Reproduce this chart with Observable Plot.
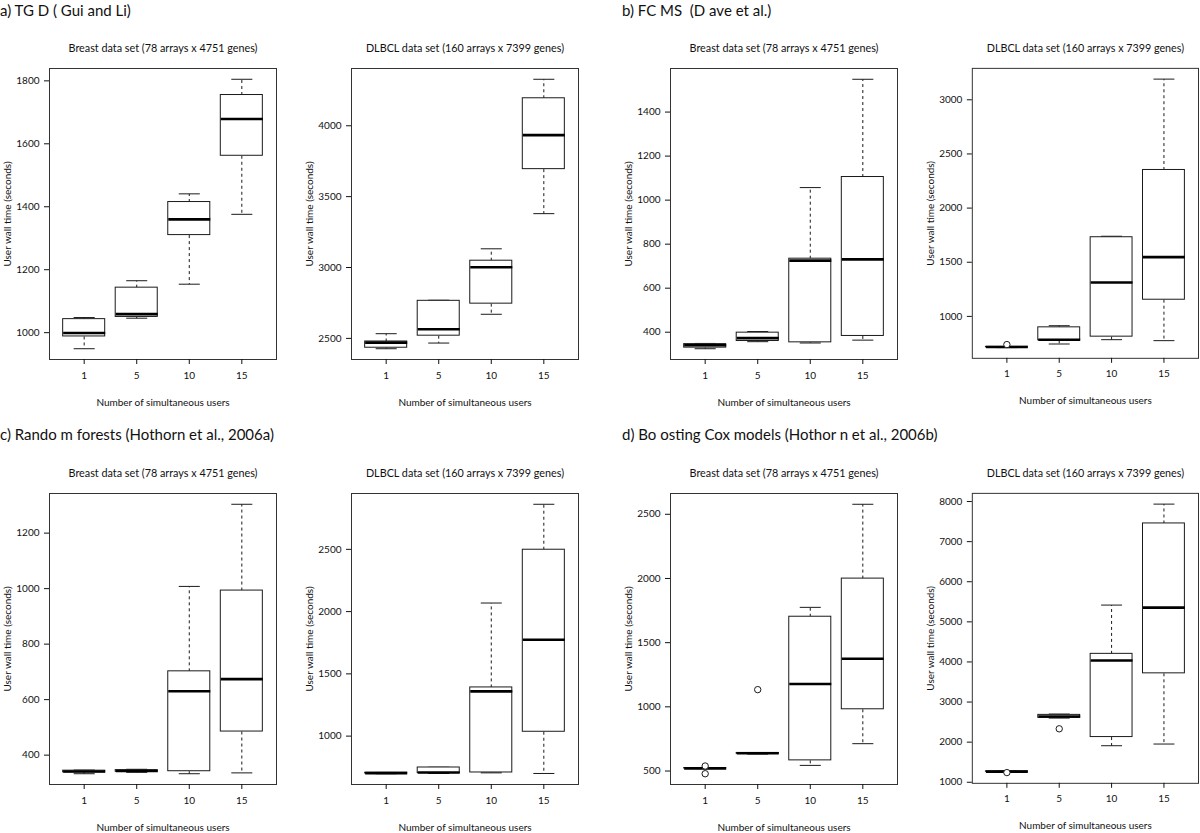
<!DOCTYPE html>
<html><head><meta charset="utf-8">
<script src="https://cdn.jsdelivr.net/npm/d3@7"></script>
<script src="https://cdn.jsdelivr.net/npm/@observablehq/plot@0.6"></script>
<style>
html,body{margin:0;padding:0;background:#fff;overflow:hidden;width:1200px;height:833px;}
#root{position:relative;width:1200px;height:833px;background:#fff;}
.hdr{position:absolute;font-family:Lato,sans-serif;font-size:15px;color:#111;white-space:pre;line-height:18px;}
.cell{position:absolute;}
</style></head><body><div id="root"></div>
<script>
// x categories
const users = [1, 5, 10, 15];
// each row: [lower whisker, Q1, median, Q3, upper whisker]
const tgdBreast = [[949,988,999,1043,1048],[1046,1050,1059,1143,1165],[1154,1310,1360,1415,1441],[1376,1562,1679,1755,1805]];
const tgdDlbcl  = [[2427,2434,2470,2478,2533],[2467,2519,2564,2765,2769],[2670,2745,3002,3048,3132],[3380,3694,3934,4194,4328]];
const fcmsBreast = [[325,330,341,346,349],[357,360,373,398,403],[351,354,725,734,1057],[364,383,731,1105,1549]];
const fcmsDlbcl  = [[712,715,717,719,722],[745,779,785,899,914],[785,813,1313,1731,1740],[776,1154,1547,2352,3191]];
const rfBreast = [[333,338,341,344,346],[338,340,343,346,349],[333,342,630,702,1008],[336,485,674,993,1304]];
const rfDlbcl  = [[698,700,703,706,708],[700,703,708,748,750],[705,708,1359,1391,2069],[700,1035,1774,2497,2862]];
const cbBreast = [[519,520,521,523,524],[632,634,638,641,643],[544,583,1178,1702,1775],[713,981,1375,1999,2578]];
const cbDlbcl  = [[1255,1260,1266,1272,1278],[2600,2606,2638,2680,2700],[1911,2127,4038,4202,5418],[1953,3716,5354,7454,7936]];
// outliers per category
const noOut = [[],[],[],[]];
const fcmsDlbclOut = [[740],[],[],[]];
const cbBreastOut = [[539,479],[1134],[],[]];
const cbDlbclOut = [[1241],[2333],[],[]];
// y tick labels
const tgdBreastTicks = [1000,1200,1400,1600,1800];
const tgdDlbclTicks = [2500,3000,3500,4000];
const fcmsBreastTicks = [400,600,800,1000,1200,1400];
const fcmsDlbclTicks = [1000,1500,2000,2500,3000];
const rfBreastTicks = [400,600,800,1000,1200];
const rfDlbclTicks = [1000,1500,2000,2500];
const cbBreastTicks = [500,1000,1500,2000,2500];
const cbDlbclTicks = [1000,2000,3000,4000,5000,6000,7000,8000];
// texts
const breastTitle = "Breast data set (78 arrays x 4751 genes)";
const dlbclTitle = "DLBCL data set (160 arrays x 7399 genes)";
const headers = ["a) TG D ( Gui and Li)", "b) FC MS  (D ave et al.)", "c) Rando m forests (Hothorn et al., 2006a)", "d) Bo osting Cox models (Hothor n et al., 2006b)"];
const xLabel = "Number of simultaneous users";
const yLabel = "User wall time (seconds)";

const panels = [
  {title: breastTitle, stats: tgdBreast, out: noOut, ticks: tgdBreastTicks, col: 0, row: 0},
  {title: dlbclTitle, stats: tgdDlbcl, out: noOut, ticks: tgdDlbclTicks, col: 1, row: 0},
  {title: breastTitle, stats: fcmsBreast, out: noOut, ticks: fcmsBreastTicks, col: 2, row: 0},
  {title: dlbclTitle, stats: fcmsDlbcl, out: fcmsDlbclOut, ticks: fcmsDlbclTicks, col: 3, row: 0},
  {title: breastTitle, stats: rfBreast, out: noOut, ticks: rfBreastTicks, col: 0, row: 1},
  {title: dlbclTitle, stats: rfDlbcl, out: noOut, ticks: rfDlbclTicks, col: 1, row: 1},
  {title: breastTitle, stats: cbBreast, out: cbBreastOut, ticks: cbBreastTicks, col: 2, row: 1},
  {title: dlbclTitle, stats: cbDlbcl, out: cbDlbclOut, ticks: cbDlbclTicks, col: 3, row: 1}
];

const frameLeft = [49, 351, 670, 972];
const frameTop = [68, 493];
const FW = 227, FH = 291;
const mL = 50, mR = 2, mT = 35, mB = 52;
const root = document.getElementById("root");

const hdrPos = [[0, 1], [622, 1], [0, 425], [622, 425]];
headers.forEach((h, k) => {
  const d = document.createElement("div");
  d.className = "hdr";
  d.textContent = h;
  d.style.left = hdrPos[k][0] + "px";
  d.style.top = hdrPos[k][1] + "px";
  root.appendChild(d);
});

const ink = "#1a1a1a";
panels.forEach(p => {
  const rows = p.stats.map((s, i) => ({i: i + 1, low: s[0], q1: s[1], med: s[2], q3: s[3], high: s[4]}));
  const outs = p.out.flatMap((o, i) => o.map(v => ({i: i + 1, v})));
  const vals = rows.flatMap(r => [r.low, r.high]).concat(outs.map(o => o.v));
  const lo = d3.min(vals), hi = d3.max(vals), pad = (hi - lo) * 0.04;
  const chart = Plot.plot({
    width: FW + mL + mR, height: FH + mT + mB,
    marginLeft: mL, marginRight: mR, marginTop: mT, marginBottom: mB,
    style: {fontFamily: "Lato, sans-serif", fontSize: "10px", color: "#111", background: "transparent", overflow: "visible"},
    x: {domain: [0.34, 4.66]},
    y: {domain: [lo - pad, hi + pad]},
    marks: [
      Plot.link(rows, {x1: "i", x2: "i", y1: "q3", y2: "high", stroke: ink, strokeDasharray: "3,3"}),
      Plot.link(rows, {x1: "i", x2: "i", y1: "q1", y2: "low", stroke: ink, strokeDasharray: "3,3"}),
      Plot.link(rows, {x1: d => d.i - 0.2, x2: d => d.i + 0.2, y1: "high", y2: "high", stroke: ink}),
      Plot.link(rows, {x1: d => d.i - 0.2, x2: d => d.i + 0.2, y1: "low", y2: "low", stroke: ink}),
      Plot.rect(rows, {x1: d => d.i - 0.4, x2: d => d.i + 0.4, y1: "q1", y2: "q3", fill: "white", stroke: ink}),
      Plot.link(rows, {x1: d => d.i - 0.4, x2: d => d.i + 0.4, y1: "med", y2: "med", stroke: "#000", strokeWidth: 2.6}),
      Plot.dot(outs, {x: "i", y: "v", r: 3.2, stroke: ink, strokeWidth: 1, fill: "white"}),
      Plot.frame({stroke: "#333"}),
      Plot.axisX({ticks: [1, 2, 3, 4], tickFormat: i => users[i - 1], tickSize: 5, tickPadding: 7, fontSize: 10,
        label: xLabel, labelAnchor: "center", labelArrow: "none", labelOffset: 46}),
      Plot.axisY({ticks: p.ticks, tickFormat: d => String(d), tickSize: 5, tickPadding: 5, fontSize: 10,
        label: yLabel, labelAnchor: "center", labelArrow: "none", labelOffset: 46}),
      Plot.text([p.title], {text: d => d, frameAnchor: "top", dy: -24, fontSize: 10.8, fill: "#111"})
    ]
  });
  const cell = document.createElement("div");
  cell.className = "cell";
  cell.style.left = (frameLeft[p.col] - mL) + "px";
  cell.style.top = (frameTop[p.row] - mT) + "px";
  cell.appendChild(chart);
  root.appendChild(cell);
});
</script>
</body></html>
